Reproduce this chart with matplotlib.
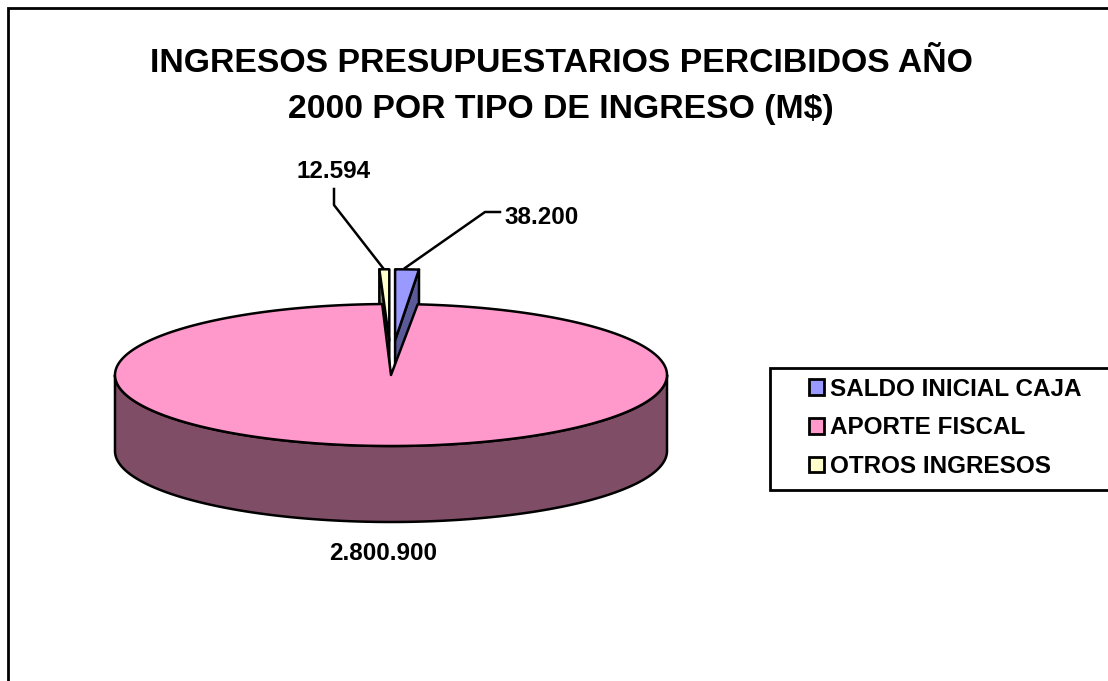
import numpy as np
import matplotlib
matplotlib.use('Agg')
import matplotlib.pyplot as plt
from matplotlib.patches import Patch, Polygon, Rectangle

title = 'INGRESOS PRESUPUESTARIOS PERCIBIDOS AÑO\n2000 POR TIPO DE INGRESO (M$)'
categories = ['SALDO INICIAL CAJA', 'APORTE FISCAL', 'OTROS INGRESOS']
values = [38200, 2800900, 12594]
value_labels = ['38.200', '2.800.900', '12.594']
top_colors = ['#9999FF', '#FF99CC', '#FFFFCC']
side_colors = ['#5A5A99', '#804D66', '#808066']

# Pie geometry, in pixels
cx, cy = 391, 375
rx, ry = 276, 71
depth = 76
explode = 135
explode_x = 0.7  # exploded slices move less sideways in the tilted view
# the back of the pie looks wider in the tilted view
notch_stretch = 1.15
blue_stretch = 1.03
otros_stretch = 1.3


def project(angle, r, ox=0, oy=0):
    # angle in degrees, clockwise from 12 o'clock, flattened onto the ellipse
    a = np.radians(angle)
    return ox + cx + r * np.sin(a), oy + cy - r * np.cos(a) * ry / rx


def wedge(a0, a1, ox=0, oy=0):
    angles = np.linspace(a0, a1, 400)
    xs, ys = project(angles, rx, ox, oy)
    return np.column_stack([np.r_[cx + ox, xs], np.r_[cy + oy, ys]])


def add(ax, pts, color, z):
    ax.add_patch(Polygon(pts, closed=True, fc=color, ec='black', lw=1.8,
                         joinstyle='round', zorder=z))


def main():
    plt.rcParams['font.family'] = ['Liberation Sans', 'DejaVu Sans']
    fig = plt.figure(figsize=(11.08, 6.81), dpi=100)
    ax = fig.add_axes([0, 0, 1, 1])
    ax.set_xlim(0, 1108)
    ax.set_ylim(681, 0)
    ax.axis('off')

    # Outer frame, runs off the image on the right and at the bottom
    ax.add_patch(Rectangle((7.5, 8), 1200, 800, fc='white', ec='black', lw=2, zorder=0))

    ax.text(561, 86.5, title, ha='center', va='center', fontsize=24.3,
            fontweight='bold', linespacing=1.66)

    total = sum(values)
    sweeps = [v / total * 360 for v in values]
    a_blue = sweeps[0] * blue_stretch
    a_otros = 360 - sweeps[2] * otros_stretch

    # Exploded slices first, the big one covers them
    for a0, a1, i, wall in [(0, a_blue, 0, a_blue), (a_otros, 360, 2, a_otros)]:
        mid = np.radians((a0 + a1) / 2)
        ox = explode * np.sin(mid) * explode_x
        oy = -explode * np.cos(mid) * ry / rx
        x_out, y_out = project(wall, rx, ox, oy)
        add(ax, [(cx + ox, cy + oy), (x_out, y_out), (x_out, y_out + depth),
                 (cx + ox, cy + oy + depth)], side_colors[i], 2)
        add(ax, wedge(a0, a1, ox, oy), top_colors[i], 3)

    # Big slice: front wall, then the top
    front = np.linspace(90, 270, 300)
    xs, ys = project(front, rx)
    wall_pts = np.column_stack([np.r_[xs, xs[::-1]], np.r_[ys, ys[::-1] + depth]])
    add(ax, wall_pts, side_colors[1], 4)
    add(ax, wedge(sweeps[0] * notch_stretch, 360 - sweeps[2] * notch_stretch),
        top_colors[1], 5)

    # Leader lines
    ax.plot([405, 485, 500], [268, 212, 212], color='black', lw=1.8, zorder=6)
    ax.plot([383, 334, 334], [268, 205, 189], color='black', lw=1.8, zorder=6)

    label_kw = dict(ha='center', va='center', fontsize=17.5, fontweight='bold', zorder=7)
    ax.text(542, 218, value_labels[0], **label_kw)
    ax.text(383, 554, value_labels[1], **label_kw)
    ax.text(334, 172, value_labels[2], **label_kw)

    # Legend
    ax.add_patch(Rectangle((770, 368), 400, 122, fc='white', ec='black', lw=2, zorder=1))
    handles = [Patch(fc=c, ec='black', lw=2) for c in top_colors]
    leg = ax.legend(handles, categories, loc='upper left', frameon=False,
                    bbox_to_anchor=(799.5, 368), bbox_transform=ax.transData,
                    prop=dict(family='Liberation Sans', weight='bold', size=17.5),
                    handlelength=0.6, handleheight=0.6, handletextpad=0.25,
                    labelspacing=0.646, borderpad=0.4, borderaxespad=0)
    leg.set_zorder(8)

    fig.savefig('out.png', dpi=100)


if __name__ == '__main__':
    main()
